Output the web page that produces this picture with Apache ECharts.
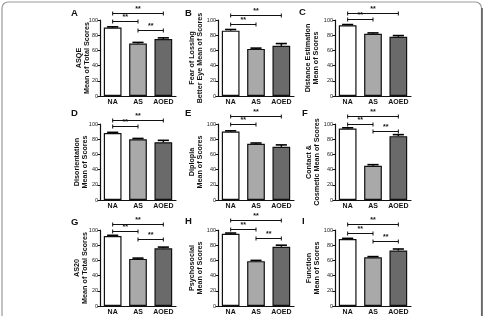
<!DOCTYPE html>
<html><head><meta charset="utf-8">
<script src="https://cdn.jsdelivr.net/npm/echarts@6/dist/echarts.min.js"></script>
<style>html,body{margin:0;padding:0;background:#fff}#c{width:484px;height:316px}</style>
</head><body><div id="c"></div>
<script>
const categories = ['NA', 'AS', 'AOED'];
const yTicks = [0, 20, 40, 60, 80, 100];
const letters = ['A', 'B', 'C', 'D', 'E', 'F', 'G', 'H', 'I'];
const titleLine1 = ['ASQE', 'Fear of Lossing', 'Distance Estimation', 'Disorientation', 'Diplopia', 'Contact &', 'AS20', 'Psychosocial', 'Function'];
const titleLine2 = ['Mean of Total Scores', 'Better Eye Mean of Scores', 'Mean of Scores', 'Mean of Scores', 'Mean of Scores', 'Cosmetic Mean of Scores', 'Mean of Total Scores', 'Mean of Scores', 'Mean of Scores'];

const meansA = [90, 69, 75];  const errA = [1, 1.5, 1.5];
const meansB = [86, 62, 66];  const errB = [1.5, 1, 3];
const meansC = [93, 82, 78];  const errC = [1, 1, 1.5];
const meansD = [88, 80, 76];  const errD = [1, 1, 2.5];
const meansE = [90, 74, 70];  const errE = [1, 1, 2.5];
const meansF = [94, 45, 84];  const errF = [1, 1.5, 2];
const meansG = [92, 62, 76];  const errG = [1, 1, 1.5];
const meansH = [95, 59, 78];  const errH = [1, 1, 2];
const meansI = [88, 64, 73];  const errI = [1, 1, 2];

// significance brackets: [from category, to category, height in score units]
const sigA = [[0, 2, 109], [0, 1, 99], [1, 2, 87]];
const sigB = [[0, 2, 106.5], [0, 1, 94.5]];
const sigC = [[0, 2, 109], [0, 1, 101]];
const sigD = [[0, 2, 105], [0, 1, 97]];
const sigE = [[0, 2, 110.5], [0, 1, 100]];
const sigF = [[0, 2, 111], [0, 1, 100.5], [1, 2, 91]];
const sigG = [[0, 2, 108], [0, 1, 98.7], [1, 2, 88]];
const sigH = [[0, 2, 113], [0, 1, 101], [1, 2, 89.5]];
const sigI = [[0, 2, 108], [0, 1, 96], [1, 2, 85.5]];

const means = [meansA, meansB, meansC, meansD, meansE, meansF, meansG, meansH, meansI];
const errs = [errA, errB, errC, errD, errE, errF, errG, errH, errI];
const sigs = [sigA, sigB, sigC, sigD, sigE, sigF, sigG, sigH, sigI];

const barColors = ['#ffffff', '#a9a9a9', '#6a6a6a'];
const FONT = 'Liberation Sans, Arial, sans-serif';
const colLeft = [100, 218, 335];
const rowTop = [20, 124, 230];
const nameGaps = [9, 13.5, 15, 11, 14, 14, 11, 14, 14];
const letterPos = [[75, 13], [189, 13], [303, 12], [75, 113], [189, 113], [306, 113], [75, 222], [189, 221], [306, 221]];

const grids = [], xAxes = [], yAxes = [], series = [], graphics = [];
for (let p = 0; p < 9; p++) {
  const r = Math.floor(p / 3), c = p % 3;
  grids.push({ left: colLeft[c], top: rowTop[r], width: 76, height: 76 });
  xAxes.push({
    type: 'category', gridIndex: p, data: categories,
    axisLine: { lineStyle: { color: '#111', width: 1.2 } },
    axisTick: { show: false },
    axisLabel: { interval: 0, fontFamily: FONT, fontWeight: 'bold', fontSize: 7, color: '#111', margin: 3 }
  });
  yAxes.push({
    type: 'value', gridIndex: p, min: 0, max: 100, interval: 20,
    splitLine: { show: false },
    axisLine: { show: true, lineStyle: { color: '#111', width: 1.2 } },
    axisTick: { show: true, length: 2.5, lineStyle: { color: '#111' } },
    axisLabel: { fontFamily: FONT, fontSize: 5.5, color: '#222', margin: 2,
      formatter: v => yTicks.includes(v) ? String(v) : '' },
    name: titleLine1[p] + '\n' + titleLine2[p],
    nameLocation: 'middle', nameGap: nameGaps[p], nameRotate: 90, nameMoveOverlap: false,
    nameTextStyle: { fontFamily: FONT, fontWeight: 'bold', fontSize: 7.2, lineHeight: 8, color: '#111' }
  });
  series.push({
    type: 'bar', xAxisIndex: p, yAxisIndex: p, barWidth: '70%', silent: true,
    data: means[p].map((v, i) => ({ value: v, itemStyle: { color: barColors[i], borderColor: '#111', borderWidth: 1.2 } }))
  });
  series.push({
    type: 'custom', xAxisIndex: p, yAxisIndex: p, clip: false, silent: true, z: 5,
    data: means[p].map((v, i) => [i, v, v + errs[p][i]]),
    encode: { x: 0, y: [1, 2] },
    renderItem: (params, api) => {
      const b = api.coord([api.value(0), api.value(1)]);
      const t = api.coord([api.value(0), api.value(2)]);
      const hw = api.size([1, 0])[0] * 0.22;
      return { type: 'group', children: [
        { type: 'line', shape: { x1: b[0], y1: b[1], x2: t[0], y2: t[1] }, style: { stroke: '#000', lineWidth: 1.5 } },
        { type: 'line', shape: { x1: t[0] - hw, y1: t[1], x2: t[0] + hw, y2: t[1] }, style: { stroke: '#000', lineWidth: 1.6 } }
      ] };
    }
  });
  series.push({
    type: 'custom', xAxisIndex: p, yAxisIndex: p, clip: false, silent: true, z: 6,
    data: sigs[p],
    encode: { x: [0, 1], y: 2 },
    renderItem: (params, api) => {
      const a = api.coord([api.value(0), api.value(2)]);
      const b = api.coord([api.value(1), api.value(2)]);
      const y = Math.round(a[1]) + 0.5;
      return { type: 'group', children: [
        { type: 'line', shape: { x1: a[0], y1: y, x2: b[0], y2: y }, style: { stroke: '#111', lineWidth: 1 } },
        { type: 'line', shape: { x1: a[0], y1: y - 2, x2: a[0], y2: y + 2 }, style: { stroke: '#111', lineWidth: 1 } },
        { type: 'line', shape: { x1: b[0], y1: y - 2, x2: b[0], y2: y + 2 }, style: { stroke: '#111', lineWidth: 1 } },
        { type: 'text', x: (a[0] + b[0]) / 2, y: y - 0.5, style: { text: '**', fontFamily: FONT, fontWeight: 'bold', fontSize: 7, fill: '#111', align: 'center', verticalAlign: 'bottom' } }
      ] };
    }
  });
  graphics.push({ type: 'text', left: letterPos[p][0] - 4, top: letterPos[p][1] - 5,
    style: { text: letters[p], fontFamily: FONT, fontWeight: 'bold', fontSize: 9.5, fill: '#111' } });
}
graphics.push({ type: 'rect', shape: { x: 2, y: 2, width: 479.5, height: 330, r: 6 }, style: { fill: 'none', stroke: '#9a9a9a', lineWidth: 1.2 }, silent: true });
graphics.push({ type: 'line', shape: { x1: 482, y1: 8, x2: 482, y2: 316 }, style: { stroke: '#555', lineWidth: 1.5 }, silent: true });

const chart = echarts.init(document.getElementById('c'), null, { renderer: 'canvas' });
chart.setOption({
  animation: false,
  backgroundColor: '#fff',
  grid: grids, xAxis: xAxes, yAxis: yAxes, series: series, graphic: graphics
});
</script>
</body></html>
